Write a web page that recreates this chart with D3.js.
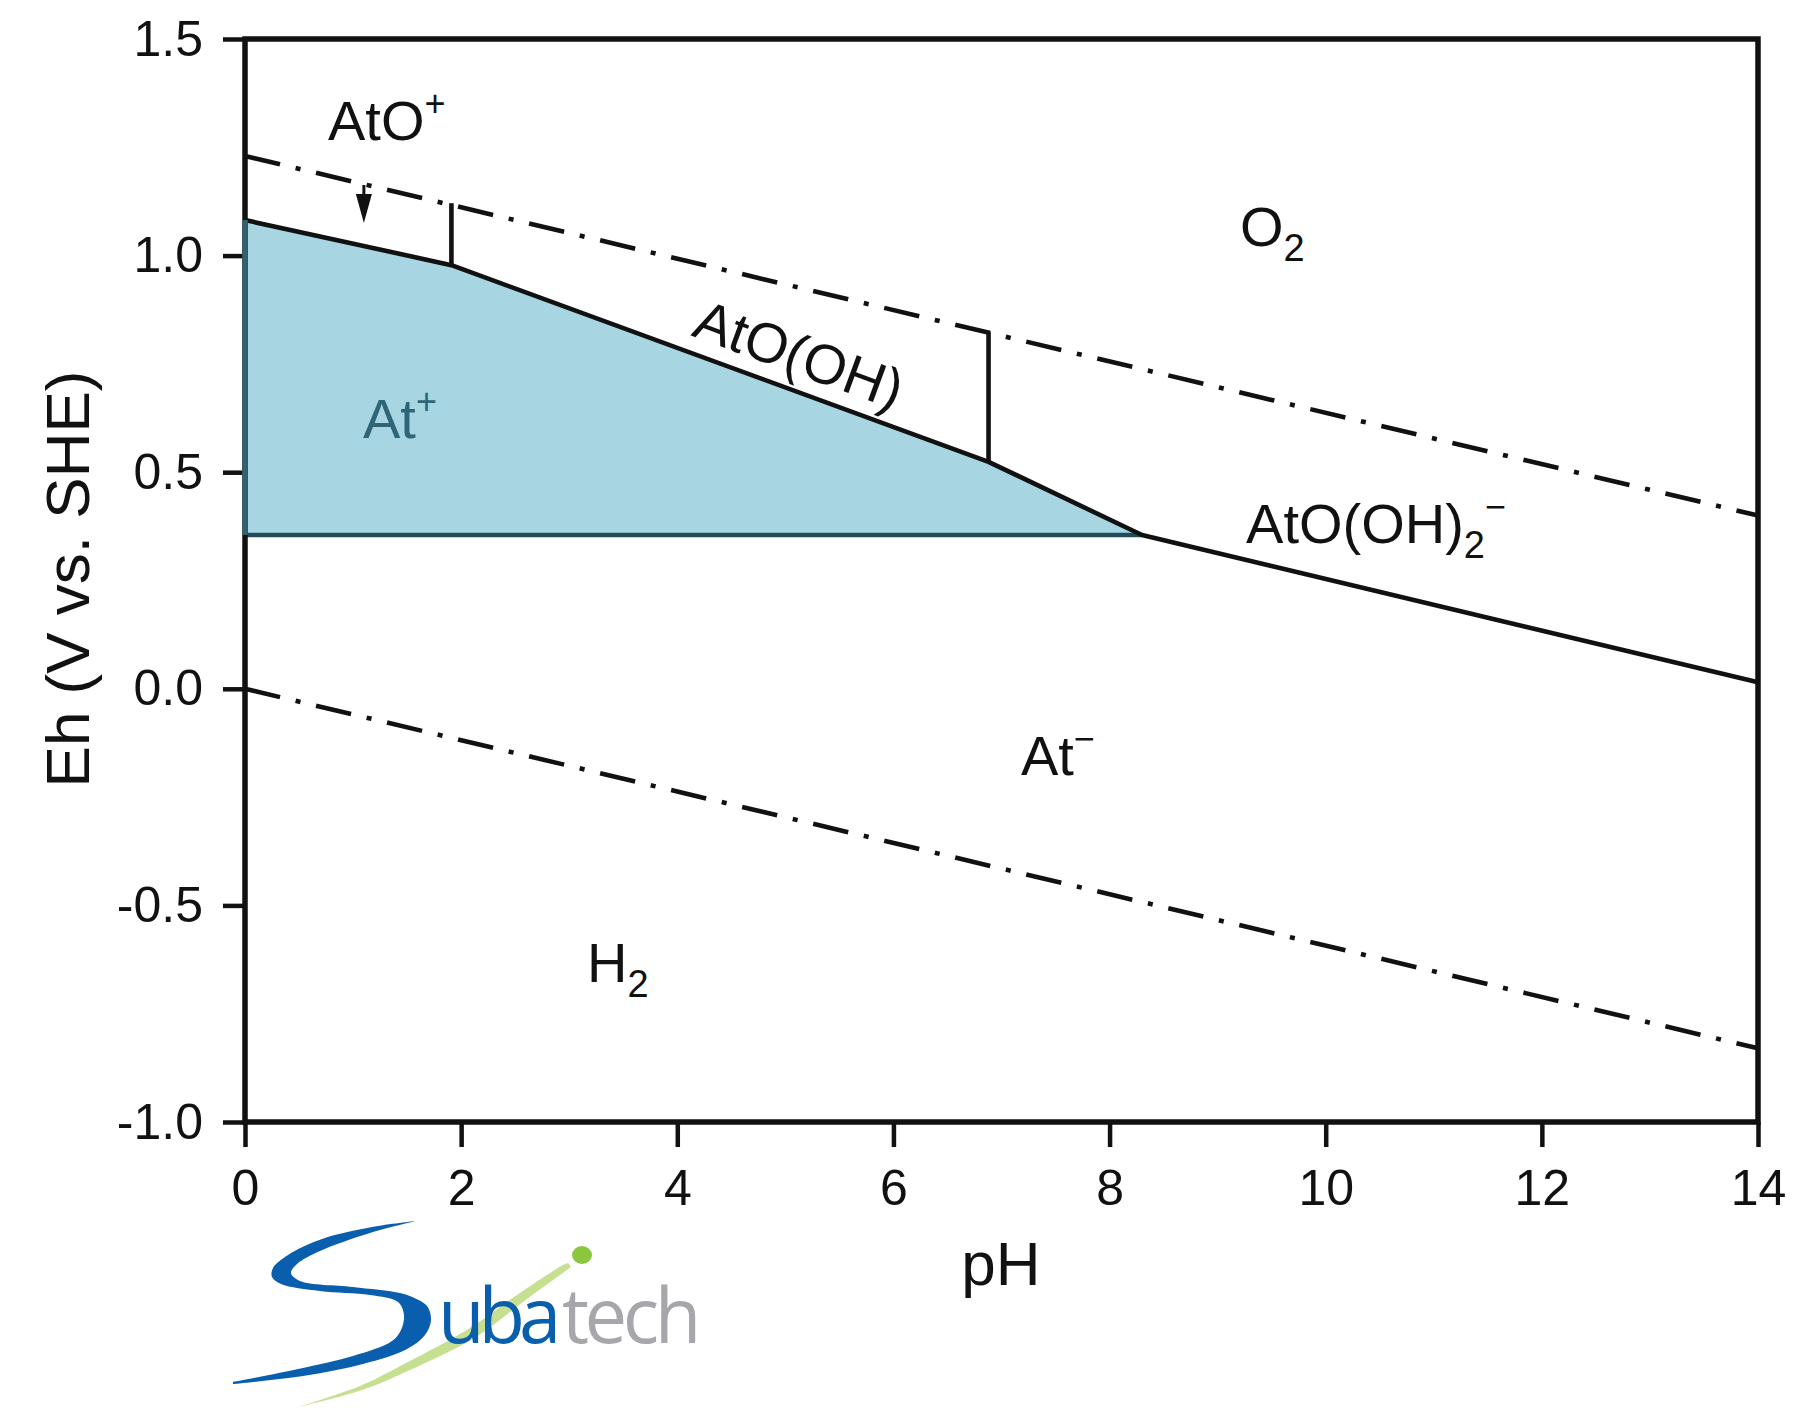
<!DOCTYPE html>
<html><head><meta charset="utf-8">
<script src="https://cdn.jsdelivr.net/npm/d3@7"></script>
<style>body{margin:0;background:#fff;} svg{display:block;}</style>
</head><body>
<svg id="chart" width="1818" height="1408"></svg>
<script>
// ---------- data ----------
const phTicks = [0, 2, 4, 6, 8, 10, 12, 14];
const phMinorTicks = [1, 3, 5, 7, 9, 11, 13];
const ehTicks = [-1.0, -0.5, 0.0, 0.5, 1.0, 1.5];
const ehMinorTicks = [-0.75, -0.25, 0.25, 0.75, 1.25];

// upper solid boundary (At+/AtO+/AtO(OH)/AtO(OH)2- vs lower species)
const boundaryPH = [0, 1.91, 6.88, 8.30, 14];
const boundaryEh = [1.082, 0.978, 0.524, 0.355, 0.015];
const floorEh = 0.355;           // At+ / At- horizontal boundary
const waterPH = [0, 14];
const o2Eh = [1.23, 0.40];       // O2/H2O line
const h2Eh = [0.0, -0.83];       // H2O/H2 line
const verticalPH = [1.91, 6.88];
const verticalTopEh = [1.121, 0.823];
const verticalBottomEh = [0.978, 0.524];
const arrowPH = [1.10];
const arrowTopEh = [1.163];
const arrowTipEh = [1.075];

const labelMain = ["AtO", "O", "AtO(OH)", "At", "AtO(OH)", "At", "H"];
const labelSub  = ["", "2", "", "", "2", "", "2"];
const labelSup  = ["+", "", "", "+", "\u2212", "\u2212", ""];
const labelPH   = [0.768, 9.207, 4.12, 1.092, 9.263, 7.18, 3.165];
const labelEh   = [1.267, 1.022, 0.816, 0.579, 0.337, -0.199, -0.677];

const xTitle = "pH";
const yTitle = "Eh (V vs. SHE)";

// ---------- drawing ----------
const svg = d3.select("#chart");
const FONT = "'Liberation Sans', Arial, sans-serif";
const x = d3.scaleLinear().domain([0, 14]).range([245, 1758]);
const y = d3.scaleLinear().domain([-1, 1.5]).range([1122, 39]);
const LW = 4.6;

svg.append("rect").attr("width", 1818).attr("height", 1408).attr("fill", "#fff");

// At+ fill
const fillPts = boundaryPH.map((p, i) => [p, boundaryEh[i]]).filter(d => d[0] <= 8.30);
fillPts.push([0, floorEh]);
svg.append("path")
  .attr("d", d3.line().x(d => x(d[0])).y(d => y(d[1]))(fillPts) + "Z")
  .attr("fill", "#a7d5e2").attr("stroke", "none");

// dash-dot water lines
[o2Eh, h2Eh].forEach(arr => {
  svg.append("path")
    .attr("d", d3.line().x((d, i) => x(waterPH[i])).y(d => y(d))(arr))
    .attr("fill", "none").attr("stroke", "#111").attr("stroke-width", LW)
    .attr("stroke-dasharray", "36,16,5,16");
});

// horizontal At+/At- line
svg.append("line")
  .attr("x1", x(0)).attr("x2", x(8.30)).attr("y1", y(floorEh)).attr("y2", y(floorEh))
  .attr("stroke", "#224c58").attr("stroke-width", LW);

// solid boundary
svg.append("path")
  .attr("d", d3.line().x((d, i) => x(boundaryPH[i])).y(d => y(d))(boundaryEh))
  .attr("fill", "none").attr("stroke", "#111").attr("stroke-width", LW)
  .attr("stroke-linejoin", "round");

// vertical boundaries
verticalPH.forEach((p, i) => {
  svg.append("line")
    .attr("x1", x(p)).attr("x2", x(p))
    .attr("y1", y(verticalTopEh[i])).attr("y2", y(verticalBottomEh[i]))
    .attr("stroke", "#111").attr("stroke-width", LW);
});

// small arrow
arrowPH.forEach((p, i) => {
  const ax = x(p), yt = y(arrowTopEh[i]), yp = y(arrowTipEh[i]);
  svg.append("line").attr("x1", ax).attr("x2", ax).attr("y1", yt).attr("y2", yt + 14)
    .attr("stroke", "#111").attr("stroke-width", 3);
  svg.append("path")
    .attr("d", `M${ax - 8},${yt + 9} L${ax + 8},${yt + 9} L${ax},${yp} Z`)
    .attr("fill", "#111");
});

// axes
const gB = svg.append("g").attr("transform", `translate(0,${y(-1)})`);
gB.call(d3.axisBottom(x).tickValues(phMinorTicks).tickSize(13).tickFormat("").tickSizeOuter(0));
gB.call(d3.axisBottom(x).tickValues(phTicks).tickSize(25).tickPadding(22).tickSizeOuter(0));
const gL = svg.append("g").attr("transform", `translate(${x(0)},0)`);
gL.call(d3.axisLeft(y).tickValues(ehMinorTicks).tickSize(11).tickFormat("").tickSizeOuter(0));
gL.call(d3.axisLeft(y).tickValues(ehTicks).tickSize(22).tickPadding(20)
  .tickFormat(d => d.toFixed(1)).tickSizeOuter(0));
svg.selectAll(".domain").remove();
svg.selectAll(".tick line").attr("stroke", "#111").attr("stroke-width", 4.5);
svg.selectAll(".tick text").attr("font-family", FONT).attr("font-size", 50).attr("fill", "#111");

// frame
svg.append("rect")
  .attr("x", x(0)).attr("y", y(1.5)).attr("width", x(14) - x(0)).attr("height", y(-1) - y(1.5))
  .attr("fill", "none").attr("stroke", "#111").attr("stroke-width", 5.5);
// teal edge of the At+ field along the left axis
svg.append("line")
  .attr("x1", x(0)).attr("x2", x(0)).attr("y1", y(boundaryEh[0])).attr("y2", y(floorEh))
  .attr("stroke", "#33626f").attr("stroke-width", 5.5);

// region labels
const angle = Math.atan2(y(boundaryEh[2]) - y(boundaryEh[1]), x(boundaryPH[2]) - x(boundaryPH[1])) * 180 / Math.PI;
labelMain.forEach((t, i) => {
  const px = x(labelPH[i]), py = y(labelEh[i]);
  const txt = svg.append("text")
    .attr("font-family", FONT).attr("font-size", 56)
    .attr("fill", i === 3 ? "#2e6577" : "#111")
    .attr("transform", i === 2 ? `translate(${px},${py}) rotate(${angle})` : `translate(${px},${py})`);
  txt.append("tspan").text(t);
  let shift = 0;
  if (labelSub[i]) {
    txt.append("tspan").attr("font-size", 38).attr("dy", 15).text(labelSub[i]);
    shift = 15;
  }
  if (labelSup[i]) {
    txt.append("tspan").attr("font-size", 36).attr("dy", -24 - shift).text(labelSup[i]);
  }
});

// axis titles
svg.append("text").text(xTitle)
  .attr("x", 1001).attr("y", 1285).attr("text-anchor", "middle")
  .attr("font-family", FONT).attr("font-size", 62).attr("fill", "#111");
svg.append("text").text(yTitle)
  .attr("transform", "translate(89,579) rotate(-90)").attr("text-anchor", "middle")
  .attr("font-family", FONT).attr("font-size", 62).attr("fill", "#111");

// ---------- Subatech logo (decoration) ----------
const logo = svg.append("g");
const side1 = [[416,1221],[372,1227],[322,1239],[288,1255],[273,1268],[272,1277],[281,1284],[320,1291],[370,1295],[398,1302],[404,1315],[401,1330],[392,1341],[353,1356],[303,1368],[233,1382]];
const side2 = [[233,1384],[303,1376],[363,1364],[407,1349],[425,1335],[431,1320],[427,1306],[412,1297],[400,1293],[353,1287],[300,1281],[291,1273],[297,1264],[320,1251],[370,1233],[416,1221]];
const greenUp = [[298,1407],[360,1386],[406,1363],[470,1328],[517,1295],[563,1265],[568,1263]];
const greenLo = [[571,1267],[523,1302],[476,1337],[410,1370],[362,1390],[298,1407]];
const lineC = d3.line().curve(d3.curveCatmullRom);
logo.append("path").attr("d", lineC(greenUp) + "L" + lineC(greenLo).slice(1) + "Z").attr("fill", "#c6df90");
logo.append("ellipse").attr("cx", 582).attr("cy", 1255).attr("rx", 10).attr("ry", 9).attr("fill", "#8cc63e");
logo.append("path").attr("d", lineC(side1) + "L" + lineC(side2).slice(1) + "Z").attr("fill", "#0a5eae");
logo.append("text").text("uba").attr("x", 438).attr("y", 1343)
  .attr("font-family", "'Open Sans', sans-serif").attr("font-size", 76)
  .attr("letter-spacing", -6).attr("fill", "#0a5eae");
logo.append("text").text("tech").attr("x", 562).attr("y", 1343)
  .attr("font-family", "'Open Sans', sans-serif").attr("font-size", 76)
  .attr("letter-spacing", -4.5).attr("fill", "#a5a7aa");
</script>
</body></html>
